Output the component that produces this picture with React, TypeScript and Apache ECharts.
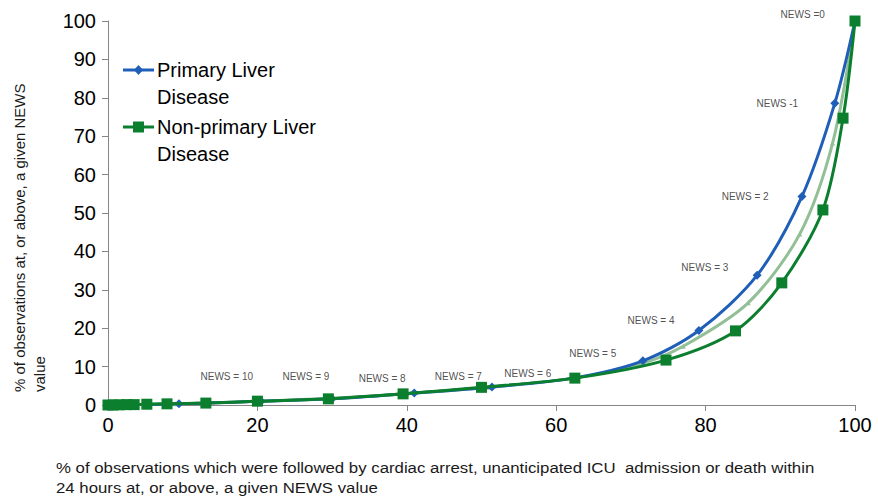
import React, { useEffect, useRef } from "react";
import * as echarts from "echarts";

// Primary Liver Disease (blue diamonds)
const primaryX = [0, 1, 2.5, 5, 9.5, 13.4, 20.5, 30, 41, 51.4, 62.3, 71.6, 79.1, 86.9, 92.9, 97.3, 100];
const primaryY = [0, 0.05, 0.1, 0.15, 0.3, 0.5, 1, 1.6, 3.1, 4.7, 7.0, 11.5, 19.4, 33.8, 54.3, 78.6, 100];

// Non-primary Liver Disease (green squares)
const nonPrimaryX = [0, 0.7, 1.5, 2.5, 3.5, 5.2, 7.9, 13.1, 20, 29.5, 39.5, 50, 62.5, 74.7, 84, 90.2, 95.7, 98.4, 100];
const nonPrimaryY = [0, 0, 0.05, 0.1, 0.1, 0.2, 0.3, 0.5, 1, 1.6, 2.9, 4.6, 7.0, 11.7, 19.3, 31.8, 50.8, 74.7, 100];

// All patients (grey-green, small triangles, not in legend)
const overallX = [0, 2, 5, 9, 13, 20, 29.5, 40, 51, 62.4, 71, 77, 85.7, 92.6, 97, 100];
const overallY = [0, 0.1, 0.2, 0.3, 0.5, 1, 1.7, 2.9, 4.6, 7, 10.5, 15.3, 26.6, 44.5, 68.2, 100];

// NEWS annotation labels and their anchor (data coordinates)
const newsLabels = ["NEWS =0", "NEWS -1", "NEWS = 2", "NEWS = 3", "NEWS = 4", "NEWS = 5", "NEWS = 6", "NEWS = 7", "NEWS = 8", "NEWS = 9", "NEWS = 10"];
const newsLabelX = [93.0, 89.6, 85.3, 79.9, 72.7, 64.9, 56.2, 46.9, 36.7, 26.5, 15.9];
const newsLabelY = [101.6, 78.6, 54.4, 35.7, 22.1, 13.3, 8.3, 7.3, 6.8, 7.3, 7.3];

const xTicks = [0, 20, 40, 60, 80, 100];
const yTicks = [0, 10, 20, 30, 40, 50, 60, 70, 80, 90, 100];

const seriesNames = ["Primary Liver Disease", "Non-primary Liver Disease"];
const legendLines = [["Primary Liver", "Disease"], ["Non-primary Liver", "Disease"]];
const xTitle = "% of observations which were followed by cardiac arrest, unanticipated ICU  admission or death within\n24 hours at, or above, a given NEWS value";
const yTitle = "% of observations at, or above, a given NEWS\nvalue";

const BLUE = "#1f5fb8";
const GREEN = "#0b7f2e";
const GREY = "#93bf97";

const zip = (xs: number[], ys: number[]) => xs.map((x, i) => [x, ys[i]]);

export default function App() {
  const ref = useRef<HTMLDivElement>(null);
  useEffect(() => {
    if (!ref.current) return;
    const chart = echarts.init(ref.current, undefined, { renderer: "svg" });
    const axisFont = "'Liberation Sans', Arial, sans-serif";
    const legendTop = [70, 127];
    const legendGraphic: any[] = [];
    legendLines.forEach((lines, i) => {
      const y = legendTop[i];
      const color = i === 0 ? BLUE : GREEN;
      legendGraphic.push({
        type: "line",
        shape: { x1: 123, y1: y, x2: 154, y2: y },
        style: { stroke: color, lineWidth: 3 },
      });
      if (i === 0) {
        legendGraphic.push({
          type: "polygon",
          shape: { points: [[138.5, y - 5], [143, y], [138.5, y + 5], [134, y]] },
          style: { fill: color },
        });
      } else {
        legendGraphic.push({
          type: "rect",
          shape: { x: 133, y: y - 5.5, width: 11, height: 11 },
          style: { fill: color },
        });
      }
      legendGraphic.push({
        type: "text",
        x: 157,
        y: y - 13.5,
        style: {
          text: lines.join("\n"),
          fontSize: 20,
          fill: "#000",
          fontFamily: axisFont,
          lineHeight: 27,
          align: "left",
          verticalAlign: "top",
        },
      });
    });

    chart.setOption({
      animation: false,
      backgroundColor: "#ffffff",
      grid: { left: 108, right: 23, top: 21, bottom: 97, containLabel: false },
      xAxis: {
        type: "value",
        min: xTicks[0],
        max: xTicks[xTicks.length - 1],
        interval: 20,
        axisLine: { show: true, lineStyle: { color: "#868686", width: 1 } },
        axisTick: { show: true, inside: false, length: 6, lineStyle: { color: "#868686" } },
        axisLabel: { fontSize: 20, color: "#000", fontFamily: axisFont, margin: 10 },
        splitLine: { show: false },
      },
      yAxis: {
        type: "value",
        min: yTicks[0],
        max: yTicks[yTicks.length - 1],
        interval: 10,
        axisLine: { show: true, lineStyle: { color: "#868686", width: 1 } },
        axisTick: { show: true, inside: false, length: 6, lineStyle: { color: "#868686" } },
        axisLabel: { fontSize: 20, color: "#000", fontFamily: axisFont, margin: 12 },
        splitLine: { show: false },
      },
      graphic: [
        ...legendGraphic,
        {
          type: "text",
          x: 56,
          y: 458,
          scaleX: 1.12,
          style: { text: xTitle, fontSize: 15, fill: "#1a1a1a", fontFamily: axisFont, lineHeight: 20 },
        },
        {
          type: "text",
          x: 9,
          y: 392,
          rotation: Math.PI / 2,
          style: {
            text: yTitle,
            fontSize: 15,
            fill: "#1a1a1a",
            fontFamily: axisFont,
            lineHeight: 20,
            align: "left",
            verticalAlign: "top",
          },
        },
      ],
      series: [
        {
          name: "All",
          type: "line",
          smooth: 0.3,
          data: zip(overallX, overallY),
          symbol: "triangle",
          symbolSize: 5,
          showSymbol: true,
          lineStyle: { color: GREY, width: 3 },
          itemStyle: { color: GREY },
          z: 2,
        },
        {
          name: seriesNames[0],
          type: "line",
          smooth: 0.3,
          data: zip(primaryX, primaryY),
          symbol: "diamond",
          symbolSize: 9,
          lineStyle: { color: BLUE, width: 3 },
          itemStyle: { color: BLUE },
          z: 3,
        },
        {
          name: seriesNames[1],
          type: "line",
          smooth: 0.3,
          data: zip(nonPrimaryX, nonPrimaryY),
          symbol: "rect",
          symbolSize: 11,
          lineStyle: { color: GREEN, width: 3 },
          itemStyle: { color: GREEN },
          z: 4,
        },
        {
          name: "labels",
          type: "scatter",
          silent: true,
          clip: false,
          symbolSize: 0,
          data: newsLabels.map((n, i) => ({ name: n, value: [newsLabelX[i], newsLabelY[i]] })),
          label: {
            show: true,
            position: "inside",
            formatter: (p: any) => p.name,
            fontSize: 10,
            color: "#222",
            fontFamily: axisFont,
          },
          z: 5,
        },
      ],
    });
    return () => chart.dispose();
  }, []);
  return <div ref={ref} style={{ position: "absolute", left: 0, top: 0, width: 878, height: 502 }} />;
}
